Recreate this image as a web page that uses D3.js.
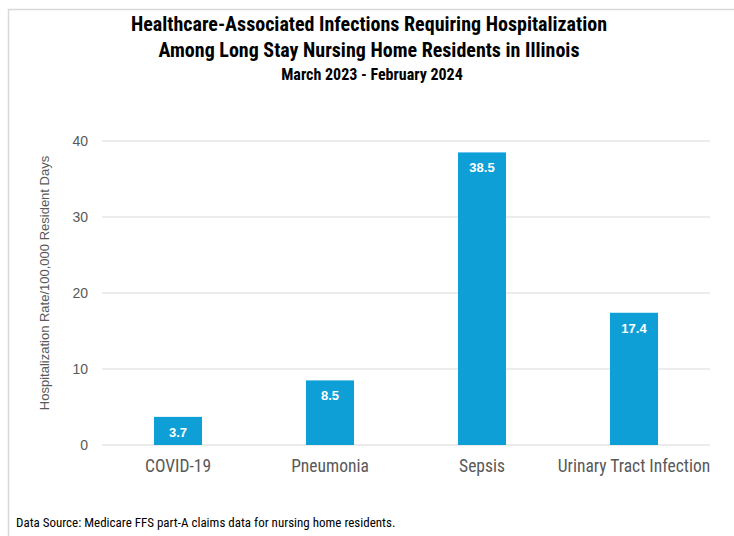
<!DOCTYPE html>
<html>
<head>
    <title>Healthcare-Associated Infections</title>
    <script src="https://d3js.org/d3.v7.min.js"></script>
    <style>
        body { margin: 0; background: #fff; }
    </style>
</head>
<body>
<script>
// Chart data
const categories = ['COVID-19', 'Pneumonia', 'Sepsis', 'Urinary Tract Infection'];
const rates = [3.7, 8.5, 38.5, 17.4];
const yTicks = [0, 10, 20, 30, 40];

const titleLines = [
    'Healthcare-Associated Infections Requiring Hospitalization',
    'Among Long Stay Nursing Home Residents in Illinois'
];
const subtitle = 'March 2023 - February 2024';
const yLabel = 'Hospitalization Rate/100,000 Resident Days';
const source = 'Data Source: Medicare FFS part-A claims data for nursing home residents.';

const W = 734, H = 536;
const narrow = '"Liberation Sans Narrow", "Roboto Condensed", "Arial Narrow", sans-serif';
const plain = '"Liberation Sans", Arial, sans-serif';

const svg = d3.select('body')
    .append('svg')
    .attr('width', W)
    .attr('height', H);

// frame lines (top and left edge of the original chart box)
svg.append('line')
    .attr('x1', 8).attr('x2', W).attr('y1', 9.5).attr('y2', 9.5)
    .attr('stroke', '#d9d9d9').attr('stroke-width', 1.5);
svg.append('line')
    .attr('x1', 8.5).attr('x2', 8.5).attr('y1', 9).attr('y2', H)
    .attr('stroke', '#d9d9d9').attr('stroke-width', 1.5);

// titles
svg.selectAll('.title')
    .data(titleLines)
    .enter()
    .append('text')
    .attr('class', 'title')
    .attr('x', 369)
    .attr('y', (d, i) => 31 + i * 26)
    .attr('text-anchor', 'middle')
    .style('font-family', narrow)
    .style('font-weight', 'bold')
    .style('font-size', '20px')
    .attr('fill', '#000')
    .text(d => d);

svg.append('text')
    .attr('x', 372)
    .attr('y', 80)
    .attr('text-anchor', 'middle')
    .style('font-family', narrow)
    .style('font-weight', 'bold')
    .style('font-size', '16px')
    .attr('fill', '#000')
    .text(subtitle);

// plot area
const plotLeft = 102, plotRight = 710, plotTop = 141, plotBottom = 445;

const x = d3.scaleBand()
    .domain(categories)
    .range([plotLeft, plotRight])
    .paddingInner(0.684)
    .paddingOuter(0.342);

const y = d3.scaleLinear()
    .domain([0, 40])
    .range([plotBottom, plotTop]);

// gridlines
svg.append('g')
    .selectAll('line')
    .data(yTicks)
    .enter()
    .append('line')
    .attr('x1', plotLeft)
    .attr('x2', plotRight)
    .attr('y1', d => y(d))
    .attr('y2', d => y(d))
    .attr('stroke', '#d9d9d9')
    .attr('stroke-width', 1);

// y axis labels
const yAxis = svg.append('g')
    .attr('transform', `translate(${plotLeft},0)`)
    .call(d3.axisLeft(y).tickValues(yTicks).tickSize(0).tickPadding(14));
yAxis.select('.domain').remove();
yAxis.selectAll('text')
    .style('font-family', plain)
    .style('font-size', '14px')
    .attr('fill', '#595959');

// bars
svg.selectAll('.bar')
    .data(rates)
    .enter()
    .append('rect')
    .attr('class', 'bar')
    .attr('x', (d, i) => x(categories[i]))
    .attr('y', d => y(d))
    .attr('width', x.bandwidth())
    .attr('height', d => plotBottom - y(d))
    .attr('fill', '#0f9fd7');

// value labels inside bars
svg.selectAll('.val')
    .data(rates)
    .enter()
    .append('text')
    .attr('class', 'val')
    .attr('x', (d, i) => x(categories[i]) + x.bandwidth() / 2)
    .attr('y', d => y(d) + 20)
    .attr('text-anchor', 'middle')
    .style('font-family', plain)
    .style('font-weight', 'bold')
    .style('font-size', '13px')
    .attr('fill', '#fff')
    .text(d => d.toFixed(1));

// category axis
const xAxis = svg.append('g')
    .attr('transform', `translate(0,${plotBottom})`)
    .call(d3.axisBottom(x).tickSize(0).tickPadding(15));
xAxis.select('.domain').remove();
xAxis.selectAll('text')
    .style('font-family', narrow)
    .style('font-size', '17.5px')
    .attr('fill', '#595959');

// y axis title
svg.append('text')
    .attr('transform', `translate(49,${(plotTop + plotBottom) / 2 - 10}) rotate(-90)`)
    .attr('text-anchor', 'middle')
    .style('font-family', plain)
    .style('font-size', '13px')
    .attr('fill', '#595959')
    .text(yLabel);

// source note
svg.append('text')
    .attr('x', 16)
    .attr('y', 527)
    .style('font-family', narrow)
    .style('font-size', '13px')
    .attr('fill', '#000')
    .text(source);
</script>
</body>
</html>
